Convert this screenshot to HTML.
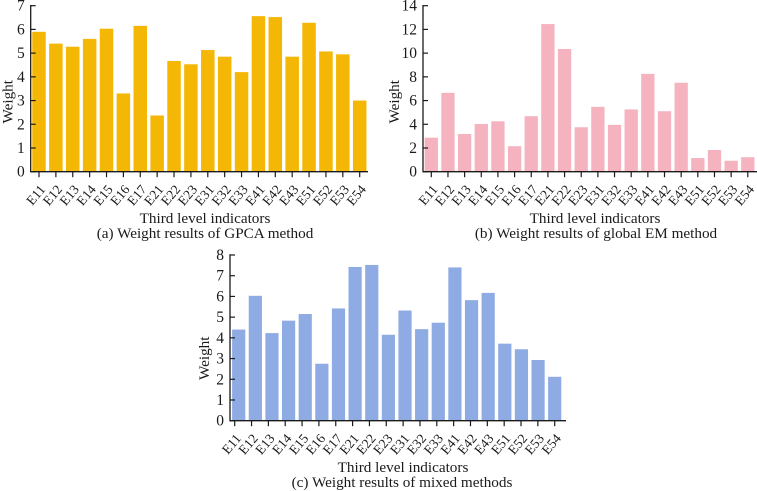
<!DOCTYPE html>
<html>
<head>
<meta charset="utf-8">
<style>
html,body{margin:0;padding:0;background:#fff;}
svg{display:block;font-family:"Liberation Serif",serif;fill:#1a1a1a;}
text{fill:#1a1a1a;}
</style>
</head>
<body>
<svg id="fig" width="757" height="491" viewBox="0 0 757 491" xmlns="http://www.w3.org/2000/svg">
<g>
<text transform="translate(12.3,123.5) rotate(-90)" font-size="15.2">Weight</text>
<text x="205" y="223" font-size="15.2" text-anchor="middle">Third level indicators</text>
<text x="205" y="238" font-size="15.2" text-anchor="middle">(a) Weight results of GPCA method</text>
</g>
<g>
<text transform="translate(399,123.5) rotate(-90)" font-size="15.2">Weight</text>
<text x="595" y="223" font-size="15.2" text-anchor="middle">Third level indicators</text>
<text x="596" y="238" font-size="15.2" text-anchor="middle">(b) Weight results of global EM method</text>
</g>
<g>
<text transform="translate(209,380) rotate(-90)" font-size="15.2">Weight</text>
<text x="403" y="472" font-size="15.2" text-anchor="middle">Third level indicators</text>
<text x="402" y="487" font-size="15.2" text-anchor="middle">(c) Weight results of mixed methods</text>
</g>
</svg>
<script>
const categories = ["E11","E12","E13","E14","E15","E16","E17","E21","E22","E23","E31","E32","E33","E41","E42","E43","E51","E52","E53","E54"];
const gpcaValues = [5.9,5.4,5.27,5.6,6.03,3.3,6.15,2.37,4.67,4.53,5.13,4.85,4.2,6.56,6.52,4.85,6.28,5.07,4.95,3.0];
const emValues = [2.87,6.65,3.18,4.02,4.25,2.15,4.68,12.45,10.35,3.75,5.47,3.95,5.25,8.25,5.1,7.5,1.15,1.83,0.92,1.22];
const mixedValues = [4.4,6.03,4.23,4.83,5.15,2.75,5.42,7.42,7.52,4.15,5.32,4.42,4.73,7.4,5.82,6.17,3.72,3.45,2.93,2.12];
const gpcaTicks = [0,1,2,3,4,5,6,7];
const emTicks = [0,2,4,6,8,10,12,14];
const mixedTicks = [0,1,2,3,4,5,6,7,8];

const svg = document.getElementById('fig');
const NS = 'http://www.w3.org/2000/svg';

function make(tag, attrs, parent) {
  const el = document.createElementNS(NS, tag);
  for (const k in attrs) el.setAttribute(k, attrs[k]);
  parent.appendChild(el);
  return el;
}

function drawChart(id, values, ticks, cfg) {
  const g = make('g', {}, svg);
  
  
  const maxV = ticks[ticks.length - 1];
  const yScale = v => cfg.y0 - (v / maxV) * (cfg.y0 - cfg.yTop);
  const barX = i => cfg.barFirst + i * (cfg.barLast - cfg.barFirst) / (values.length - 1);
  const tickX = i => cfg.tickFirst + i * (cfg.tickLast - cfg.tickFirst) / (values.length - 1);

  values.forEach((v, i) => {
    const bar = make('rect', {
      x: barX(i) - cfg.barW / 2,
      y: yScale(v),
      width: cfg.barW,
      height: cfg.y0 - yScale(v),
      fill: cfg.color
    }, g);
    
    
  });

  const yAxis = make('line', {x1: cfg.axisX, x2: cfg.axisX, y1: cfg.yTop - 0.7, y2: cfg.y0 + 0.7, stroke: '#1a1a1a', 'stroke-width': 1.3}, g);
  
  
  const xAxis = make('line', {x1: cfg.axisX, x2: cfg.axisEnd, y1: cfg.y0, y2: cfg.y0, stroke: '#1a1a1a', 'stroke-width': 1.3}, g);
  
  

  ticks.forEach(t => {
    const y = yScale(t);
    const mark = make('line', {x1: cfg.axisX, x2: cfg.axisX + 5, y1: y, y2: y, stroke: '#1a1a1a', 'stroke-width': 1.2}, g);
    
    
    const label = make('text', {x: cfg.axisX - 6, y: y + 5, 'font-size': 15.5, 'text-anchor': 'end'}, g);
    label.textContent = t;
    
    
  });

  categories.forEach((c, i) => {
    const x = tickX(i);
    const mark = make('line', {x1: x, x2: x, y1: cfg.y0, y2: cfg.y0 + 5.5, stroke: '#1a1a1a', 'stroke-width': 1.2}, g);
    
    
    const label = make('text', {
      transform: 'translate(' + (x + 7) + ',' + (cfg.y0 + 18) + ') rotate(-50)',
      'font-size': 13.5,
      'text-anchor': 'end'
    }, g);
    label.textContent = c;
    
    
  });
}

drawChart('a', gpcaValues, gpcaTicks, {
  axisX: 30.7, axisEnd: 368, y0: 171.7, yTop: 5.7, color: '#f5b705',
  barFirst: 39, barLast: 359.7, tickFirst: 39, tickLast: 359.7, barW: 13.5
});
drawChart('b', emValues, emTicks, {
  axisX: 423, axisEnd: 757, y0: 171.7, yTop: 5.7, color: '#f4b3bf',
  barFirst: 431.3, barLast: 747.8, tickFirst: 431.3, tickLast: 747.8, barW: 13.3
});
drawChart('c', mixedValues, mixedTicks, {
  axisX: 230, axisEnd: 566, y0: 420.7, yTop: 255, color: '#8fabe4',
  barFirst: 238.7, barLast: 554.7, tickFirst: 234.7, tickLast: 554.7, barW: 13.2
});
</script>
</body>
</html>
